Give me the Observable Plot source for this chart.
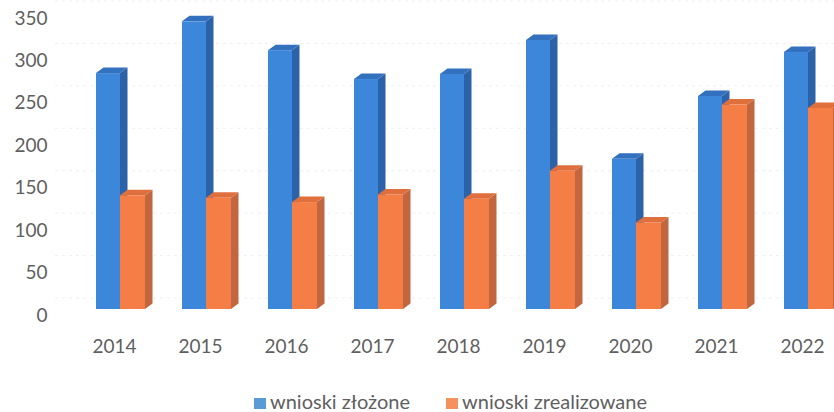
<!DOCTYPE html>
<html>
<head>
<meta charset="utf-8">
<script src="https://cdn.jsdelivr.net/npm/d3@7"></script>
<script src="https://cdn.jsdelivr.net/npm/@observablehq/plot@0.6"></script>
<style>
  body { margin: 0; background: #fff; font-family: Lato, "Open Sans", sans-serif; }
  #wrap { position: relative; width: 834px; height: 412px; overflow: hidden; }
  #legend { position: absolute; left: 254px; top: 389px; display: flex; font-size: 20px; line-height: 24px; color: #5f5f5f; white-space: nowrap; }
  .item { margin-right: 36px; }
  .sw { display: inline-block; width: 12px; height: 11px; margin-right: 4px; vertical-align: baseline; }
</style>
</head>
<body>
<div id="wrap"><div id="chart"></div><div id="legend"></div></div>
<script>
const years = ["2014", "2015", "2016", "2017", "2018", "2019", "2020", "2021", "2022"];
const zlozone = [278, 339, 305, 271, 277, 317, 177, 251, 303];
const zrealizowane = [134, 131, 126, 135, 130, 163, 102, 241, 237];
const seriesNames = ["wnioski złożone", "wnioski zrealizowane"];
const yTicks = [0, 50, 100, 150, 200, 250, 300, 350];

const colors = { front: ["#3c87da", "#f47e45"], top: ["#3371bf", "#df6f3c"], side: ["#2c63a8", "#c2663f"] };
const insets = [[25, 37], [49, 12]];
const DY = -6, DX = 7.5, DZ = -5.5;

const rows = [];
years.forEach((y, i) => {
  rows.push({ year: y, series: seriesNames[0], value: zlozone[i], s: 0 });
  rows.push({ year: y, series: seriesNames[1], value: zrealizowane[i], s: 1 });
});

function faces(s) {
  return (index, scales) => {
    const g = d3.create("svg:g");
    const x = scales.x, y = scales.y, bw = x.bandwidth();
    for (const d of rows.filter(r => r.s === s)) {
      const x0 = x(d.year) + insets[s][0], x1 = x(d.year) + bw - insets[s][1];
      const top = y(d.value) + DY, bot = y(0) + DY;
      g.append("path").attr("d", `M${x1},${top}L${x1 + DX},${top + DZ}L${x1 + DX},${bot + DZ}L${x1},${bot}Z`).attr("fill", colors.side[s]);
      g.append("path").attr("d", `M${x0},${top}L${x1},${top}L${x1 + DX},${top + DZ}L${x0 + DX},${top + DZ}Z`).attr("fill", colors.top[s]);
    }
    return g.node();
  };
}

const marks = [Plot.ruleY(yTicks, { dy: -17.5, stroke: "#efefef", strokeDasharray: "3,4" })];
for (const s of [0, 1]) {
  marks.push(faces(s));
  marks.push(Plot.barY(rows.filter(r => r.s === s), { x: "year", y: "value", fill: colors.front[s], insetLeft: insets[s][0], insetRight: insets[s][1], dy: DY }));
}

const chart = Plot.plot({
  width: 834,
  height: 365,
  marginLeft: 55,
  marginRight: 0,
  marginTop: 0,
  marginBottom: 50,
  style: { fontFamily: "Lato, 'Open Sans', sans-serif", fontSize: "19px", color: "#5f5f5f", background: "#fff", overflow: "visible" },
  x: { domain: years, range: [71, 845], padding: 0, tickSize: 0, tickPadding: 24, label: null },
  y: { domain: [0, 350], range: [315, 18], ticks: yTicks, tickSize: 0, tickPadding: 8, label: null },
  marks
});
document.getElementById("chart").appendChild(chart);

const legend = document.getElementById("legend");
seriesNames.forEach((n, i) => {
  const it = document.createElement("span");
  it.className = "item";
  it.innerHTML = `<span class="sw" style="background:${["#5b9bd5", "#f4915e"][i]}"></span>${n}`;
  legend.appendChild(it);
});
</script>
</body>
</html>
